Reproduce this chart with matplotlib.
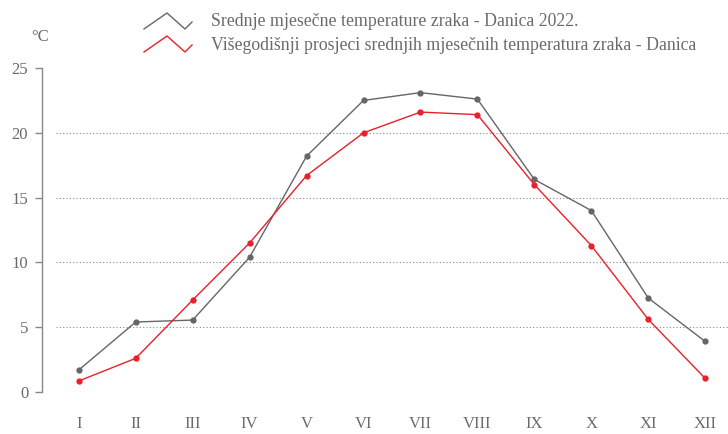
import matplotlib
matplotlib.use("Agg")
import matplotlib.pyplot as plt
from matplotlib.lines import Line2D

months = ["I", "II", "III", "IV", "V", "VI", "VII", "VIII", "IX", "X", "XI", "XII"]
temp_2022 = [1.7, 5.4, 5.55, 10.4, 18.2, 22.5, 23.1, 22.6, 16.4, 14.0, 7.25, 3.9]
temp_avg = [0.85, 2.6, 7.1, 11.5, 16.7, 20.0, 21.6, 21.4, 16.0, 11.3, 5.6, 1.05]
label_2022 = "Srednje mjesečne temperature zraka - Danica 2022."
label_avg = "Višegodišnji prosjeci srednjih mjesečnih temperatura zraka - Danica"
yticks = [0, 5, 10, 15, 20, 25]

GRAY = "#666666"
RED = "#e8202a"
TXT = "#6a6a6a"
FONT = ["Liberation Serif", "DejaVu Serif"]
plt.rcParams["font.family"] = FONT

W, H = 728, 434
fig = plt.figure(figsize=(W / 100, H / 100), dpi=100)
ax = fig.add_axes([56 / W, (H - 392) / H, 1 - 56 / W, (392 - 68) / H])

x = list(range(1, len(months) + 1))
ax.plot(x, temp_2022, color=GRAY, lw=1.0, marker="o", ms=3.5, clip_on=False, zorder=3)
ax.plot(x, temp_avg, color=RED, lw=1.0, marker="o", ms=3.5, clip_on=False, zorder=3)

ax.set_xlim(0.6, 12.4)
ax.set_ylim(0, 25)
for v in yticks[:-1]:
    ax.axhline(v, color="#888888", lw=0.8, ls=(0, (1, 2)), zorder=1)

for s in ["top", "right", "bottom"]:
    ax.spines[s].set_visible(False)
ax.spines["left"].set_position(("outward", 10))
ax.spines["left"].set_color("#888888")
ax.spines["left"].set_linewidth(1.0)
ax.set_yticks(yticks)
ax.set_yticklabels([str(v) for v in yticks])
ax.tick_params(axis="y", colors="#888888", labelcolor=TXT, length=5, width=1.0, labelsize=12, pad=5)
ax.set_xticks(x)
ax.set_xticklabels(months)
ax.tick_params(axis="x", length=0, labelcolor=TXT, labelsize=12, pad=17)

fig.text(40 / W, 1 - 37 / H, "°C", color=TXT, fontsize=12, ha="center", va="center")

# legend
def zig(y0, color):
    xs = [144, 167, 185, 192]
    ys = [y0 + 16, y0, y0 + 16, y0 + 9]
    fig.add_artist(Line2D([a / W for a in xs], [1 - b / H for b in ys], color=color, lw=1.0,
                          transform=fig.transFigure))

zig(13, GRAY)
zig(36, RED)
fig.text(211 / W, 1 - 21 / H, label_2022, color=TXT, fontsize=12.8, va="center", ha="left")
fig.text(211 / W, 1 - 45 / H, label_avg, color=TXT, fontsize=12.8, va="center", ha="left")

fig.savefig("out.png", dpi=100)
